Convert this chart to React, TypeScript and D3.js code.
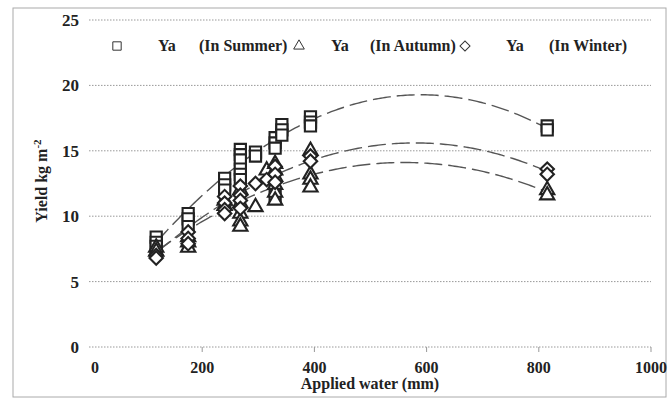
import * as d3 from "d3";

// applied water (mm) and yield (kg m-2)
const summerX = [118, 118, 118, 175, 175, 175, 240, 240, 240, 268, 268, 268, 268, 268, 268, 295, 295, 330, 330, 330, 330, 342, 342, 342, 393, 393, 393, 815, 815];
const summerY = [8.4, 8.0, 7.7, 10.2, 9.8, 9.2, 12.9, 12.4, 12.0, 15.1, 14.7, 14.3, 13.6, 13.2, 12.8, 14.9, 14.6, 16.0, 15.6, 15.2, 11.6, 17.0, 16.6, 16.2, 17.6, 17.2, 16.9, 16.9, 16.6];

const autumnX = [118, 118, 175, 175, 175, 240, 240, 268, 268, 268, 268, 268, 295, 315, 330, 330, 330, 330, 330, 330, 393, 393, 393, 393, 815, 815];
const autumnY = [7.6, 7.3, 8.4, 8.0, 7.6, 11.2, 10.8, 12.0, 11.0, 10.2, 9.6, 9.2, 10.7, 13.5, 14.0, 13.5, 13.0, 12.4, 11.8, 11.2, 15.0, 13.2, 12.8, 12.2, 12.0, 11.6];

const winterX = [118, 118, 175, 175, 175, 240, 240, 240, 240, 268, 268, 268, 268, 295, 315, 330, 330, 330, 393, 393, 815, 815];
const winterY = [7.0, 6.8, 8.8, 8.3, 7.9, 11.5, 11.0, 10.5, 10.2, 12.3, 11.6, 11.2, 10.6, 12.5, 12.8, 13.8, 13.2, 12.6, 14.6, 14.2, 13.6, 13.2];

// polynomial trendlines (order 2): c + b*x + a*x^2
const summerTrend = [1.65, 0.0598, -5.07e-5];
const autumnTrend = [3.19, 0.03898, -3.48e-5];
const winterTrend = [2.35, 0.0457, -3.94e-5];
const trendRange = [118, 815];

const xTicks = [0, 200, 400, 600, 800, 1000];
const yTicks = [0, 5, 10, 15, 20, 25];
const legendLabels = ["(In Summer)", "(In Autumn)", "(In Winter)"];

const W = 668;
const H = 401;
const font = "'Liberation Serif', 'Times New Roman', serif";

export default function App() {
  const x = d3.scaleLinear().domain([0, 1000]).range([90, 651]);
  const y = d3.scaleLinear().domain([0, 25]).range([347, 20]);

  const series = [
    { xs: summerX, ys: summerY, trend: summerTrend, shape: "square" },
    { xs: autumnX, ys: autumnY, trend: autumnTrend, shape: "triangle" },
    { xs: winterX, ys: winterY, trend: winterTrend, shape: "diamond" },
  ];

  const marker = (shape, size) => {
    if (shape === "square") return d3.symbol(d3.symbolSquare, size)();
    if (shape === "triangle") return d3.symbol(d3.symbolTriangle, size * 0.7)();
    return d3.symbol(d3.symbolSquare, size * 0.72)();
  };

  const line = d3.line().x((d) => x(d[0])).y((d) => y(d[1]));
  const trendPts = (t) =>
    d3.range(trendRange[0], trendRange[1] + 1, 4).map((v) => [v, t[0] + t[1] * v + t[2] * v * v]);

  const legendItems = [
    { shape: "square", mx: 117, ya: 158, lx: 199 },
    { shape: "triangle", mx: 299, ya: 331, lx: 370 },
    { shape: "diamond", mx: 465, ya: 506, lx: 549 },
  ];

  return (
    <svg width={W} height={H} style={{ position: "absolute", left: 0, top: 0, background: "#fff" }} fontFamily={font}>
      <rect x={13} y={8} width={W - 15} height={H - 12} fill="none" stroke="#aaa" strokeWidth={1} />

      {yTicks.map((t) => (
        <g key={t}>
          <line x1={89} x2={651} y1={y(t)} y2={y(t)} stroke="#999" strokeWidth={1} strokeDasharray="1.5,1.5" />
          <text x={79} y={y(t) + 6} textAnchor="end" fontSize={17} fontWeight="bold" fill="#222">{t}</text>
        </g>
      ))}

      {xTicks.map((t) => (
        <g key={t}>
          {t > 0 && <line x1={x(t)} x2={x(t)} y1={347} y2={352} stroke="#999" strokeWidth={1} />}
          <text x={x(t) + (t === 0 ? 5 : 0)} y={373} textAnchor="middle" fontSize={16} fontWeight="bold" fill="#222">{t}</text>
        </g>
      ))}

      <text x={370} y={389} textAnchor="middle" fontSize={16} fontWeight="bold" fill="#222">Applied water (mm)</text>
      <text transform="translate(47,181) rotate(-90)" textAnchor="middle" fontSize={16} fontWeight="bold" fill="#222">
        Yield kg m<tspan dy={-6} fontSize={11}>-2</tspan>
      </text>

      {series.map((s, i) => (
        <path key={"t" + i} d={line(trendPts(s.trend))} fill="none" stroke="#555" strokeWidth={1.4} strokeDasharray="18,6" />
      ))}

      {series.map((s, i) => (
        <g key={"s" + i}>
          {s.xs.map((v, j) => (
            <path
              key={j}
              d={marker(s.shape, 125)}
              transform={`translate(${x(v)},${y(s.ys[j])})${s.shape === "diamond" ? " rotate(45)" : ""}`}
              fill="#fff"
              stroke="#222"
              strokeWidth={2.1}
            />
          ))}
        </g>
      ))}

      {legendItems.map((l, i) => (
        <g key={"l" + i}>
          <path
            d={marker(l.shape, 70)}
            transform={`translate(${l.mx},46)${l.shape === "diamond" ? " rotate(45)" : ""}`}
            fill="#fff"
            stroke="#333"
            strokeWidth={1}
          />
          <text x={l.ya} y={51} fontSize={16} fontWeight="bold" fill="#222">Ya</text>
          <text x={l.lx} y={51} fontSize={16} fontWeight="bold" fill="#222">{legendLabels[i]}</text>
        </g>
      ))}
    </svg>
  );
}
